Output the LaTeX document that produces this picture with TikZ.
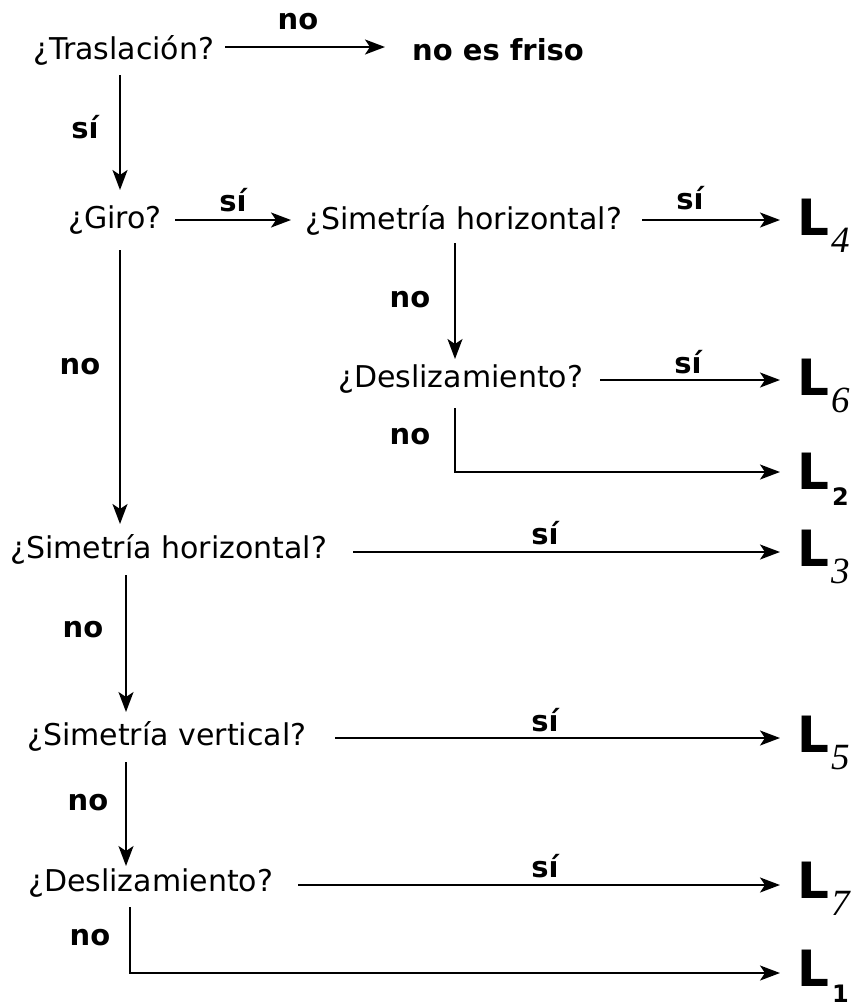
\documentclass[tikz,border=0pt]{standalone}
\usepackage{fontspec}
\setmainfont{DejaVu Sans}
\newfontfamily\subfont{Liberation Serif}
\usetikzlibrary{arrows.meta}
\tikzset{
  q/.style={font=\fontsize{30}{34}\selectfont, inner sep=0pt, anchor=west},
  lab/.style={font=\bfseries\fontsize{29}{33}\selectfont, inner sep=0pt},
  res/.style={font=\bfseries\fontsize{50}{56}\selectfont, inner sep=0pt, anchor=west},
  arr/.style={line width=2.2pt, -{Stealth[length=20pt,width=15pt,inset=5pt]}},
}
\newcommand{\Lsub}[1]{L\hspace{2pt}\raisebox{-17pt}{\subfont\itshape\mdseries\fontsize{37}{40}\selectfont #1}}
\newcommand{\Lbsub}[1]{L\hspace{3pt}\raisebox{-16pt}{\fontsize{24}{28}\selectfont #1}}
\begin{document}
\begin{tikzpicture}[x=1pt,y=-1pt]
\useasboundingbox (0,0) rectangle (859,1007);
% questions
\node[q] (tras) at (33,50) {¿Traslación?};
\node[lab, anchor=west] (nofriso) at (412,50) {no es friso};
\node[q] (giro) at (68,220) {¿Giro?};
\node[q] (sh1) at (305,220) {¿Simetría horizontal?};
\node[q] (des1) at (338,379) {¿Deslizamiento?};
\node[q] (sh2) at (10,549) {¿Simetría horizontal?};
\node[q] (sv) at (27,736) {¿Simetría vertical?};
\node[q] (des2) at (28,883) {¿Deslizamiento?};
% results
\node[res] (L4) at (797,226) {\Lsub{4}};
\node[res] (L6) at (797,386) {\Lsub{6}};
\node[res] (L2) at (797,479) {\Lbsub{2}};
\node[res] (L3) at (797,557) {\Lsub{3}};
\node[res] (L5) at (797,743) {\Lsub{5}};
\node[res] (L7) at (797,889) {\Lsub{7}};
\node[res] (L1) at (797,976) {\Lbsub{1}};
% coordinates
\coordinate (a1s) at (225,47); \coordinate (a1e) at (385,47);
\coordinate (t0) at (120,75); \coordinate (t1) at (120,190);
\coordinate (g0) at (175,220); \coordinate (g1) at (291,220);
\coordinate (h0) at (642,220); \coordinate (h1) at (780,220);
\coordinate (hv0) at (455,243); \coordinate (hv1) at (455,359);
\coordinate (d0) at (600,380); \coordinate (d1) at (780,380);
\coordinate (dv0) at (455,408); \coordinate (dv1) at (455,472); \coordinate (dv2) at (780,472);
\coordinate (gv0) at (120,250); \coordinate (gv1) at (120,524);
\coordinate (s0) at (353,552); \coordinate (s1) at (780,552);
\coordinate (sv0) at (126,575); \coordinate (sv1) at (126,712);
\coordinate (v0) at (335,738); \coordinate (v1) at (780,738);
\coordinate (vv0) at (126,762); \coordinate (vv1) at (126,866);
\coordinate (e0) at (298,885); \coordinate (e1) at (780,885);
\coordinate (ev0) at (130,907); \coordinate (ev1) at (130,973); \coordinate (ev2) at (780,973);
% arrows
\draw[arr] (a1s) -- (a1e);
\draw[arr] (t0) -- (t1);
\draw[arr] (g0) -- (g1);
\draw[arr] (h0) -- (h1);
\draw[arr] (hv0) -- (hv1);
\draw[arr] (d0) -- (d1);
\draw[arr] (dv0) -- (dv1) -- (dv2);
\draw[arr] (gv0) -- (gv1);
\draw[arr] (s0) -- (s1);
\draw[arr] (sv0) -- (sv1);
\draw[arr] (v0) -- (v1);
\draw[arr] (vv0) -- (vv1);
\draw[arr] (e0) -- (e1);
\draw[arr] (ev0) -- (ev1) -- (ev2);
% labels
\node[lab] (l1) at (298,22) {no};
\node[lab] (l2) at (85,127) {sí};
\node[lab] (l3) at (233,200) {sí};
\node[lab] (l4) at (690,198) {sí};
\node[lab] (l5) at (410,300) {no};
\node[lab] (l6) at (688,362) {sí};
\node[lab] (l7) at (410,437) {no};
\node[lab] (l8) at (80,367) {no};
\node[lab] (l9) at (545,533) {sí};
\node[lab] (l10) at (83,630) {no};
\node[lab] (l11) at (545,720) {sí};
\node[lab] (l12) at (88,803) {no};
\node[lab] (l13) at (545,866) {sí};
\node[lab] (l14) at (90,938) {no};
\end{tikzpicture}
\end{document}
